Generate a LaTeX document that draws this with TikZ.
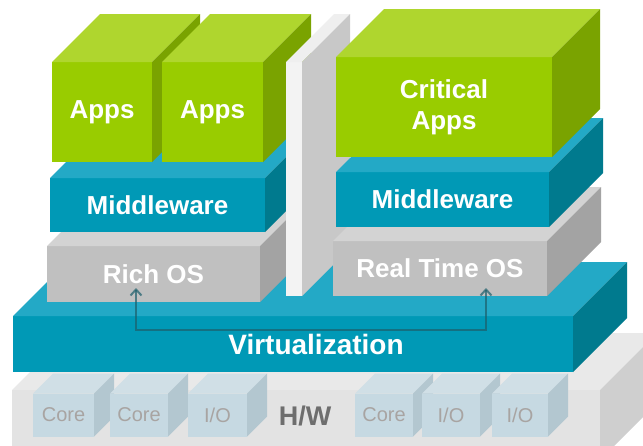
\documentclass[tikz,border=0pt]{standalone}
\usepackage{fontspec}
\setmainfont{Liberation Sans}
\usetikzlibrary{calc,arrows.meta}
\definecolor{gfront}{HTML}{99CC00}
\definecolor{gtop}{HTML}{AFD62E}
\definecolor{gside}{HTML}{7AA300}
\definecolor{cfront}{HTML}{0099B6}
\definecolor{ctop}{HTML}{23A9C6}
\definecolor{cside}{HTML}{007A8E}
\definecolor{ofront}{HTML}{C0C0C0}
\definecolor{otop}{HTML}{D3D3D3}
\definecolor{oside}{HTML}{A3A3A3}
\definecolor{dfront}{HTML}{F3F3F3}
\definecolor{dtop}{HTML}{EFEFEF}
\definecolor{dside}{HTML}{C8C8C8}
\definecolor{hfront}{HTML}{E3E3E3}
\definecolor{htop}{HTML}{E9E9E9}
\definecolor{hside}{HTML}{CFCFCF}
\definecolor{kfront}{HTML}{C6D9E2}
\definecolor{ktop}{HTML}{D0DFE6}
\definecolor{kside}{HTML}{B3C7D0}
\definecolor{ktext}{HTML}{A8A4A2}
\definecolor{htext}{HTML}{6E6E6E}
\definecolor{arrowc}{HTML}{1D5F6B}
\newcommand\cubefaces[4]{%
  \fill[#3] (#1.north west) -- ++(#2,-#2) -- ($(#1.north east)+(#2,-#2)$) -- (#1.north east) -- cycle;
  \fill[#4] (#1.north east) -- ++(#2,-#2) -- ($(#1.south east)+(#2,-#2)$) -- (#1.south east) -- cycle;}
\tikzset{
  face/.style={rectangle, inner sep=0pt, outer sep=0pt, draw=none, text=white,
    font=\fontsize{26}{30}\selectfont\bfseries, align=center},
  corebox/.style={face, fill=kfront, text=ktext, font=\fontsize{20}{24}\selectfont,
    minimum height=43pt},
  linkarrow/.style={draw=arrowc, line width=2pt, draw opacity=0.7,
    {Straight Barb[length=6pt,width=11pt]}-{Straight Barb[length=6pt,width=11pt]}}
}
\begin{document}
\begin{tikzpicture}[x=1pt,y=-1pt]
\useasboundingbox (0,0) rectangle (643,445);
\clip (0,0) rectangle (643,445);
\fill[white] (0,0) rectangle (643,445);
% H/W layer
\node[face, fill=hfront, minimum width=588pt, minimum height=70pt] (hw) at (306,425) {};
\cubefaces{hw}{57}{htop}{hside}
\node[font=\fontsize{27}{30}\selectfont\bfseries, text=htext] (hwlabel) at (305,416) {H/W};
% cores
\node[corebox, minimum width=61pt] (c1) at (63.5,415) {Core};
\cubefaces{c1}{20}{ktop}{kside}
\node[corebox, minimum width=58pt] (c2) at (139,415) {Core};
\cubefaces{c2}{20}{ktop}{kside}
\node[corebox, minimum width=59pt] (io1) at (217.5,415) {I/O};
\cubefaces{io1}{20}{ktop}{kside}
\node[corebox, minimum width=58pt] (c3) at (384,415) {Core};
\cubefaces{c3}{20}{ktop}{kside}
\node[corebox, minimum width=58pt] (io2) at (451,415) {I/O};
\cubefaces{io2}{20}{ktop}{kside}
\node[corebox, minimum width=56pt] (io3) at (520,415) {I/O};
\cubefaces{io3}{20}{ktop}{kside}
% Virtualization
\node[face, fill=cfront, minimum width=560pt, minimum height=56pt,
  label={[xshift=23pt, text=white, font=\fontsize{28}{30}\selectfont\bfseries]center:Virtualization}] (virt) at (293,344) {};
\cubefaces{virt}{54}{ctop}{cside}
% left stack
\node[face, fill=ofront, minimum width=213pt, minimum height=56pt] (richos) at (153.5,274) {Rich OS};
\cubefaces{richos}{54}{otop}{oside}
\node[face, fill=cfront, minimum width=215pt, minimum height=54pt] (mwl) at (157.5,205) {Middleware};
\cubefaces{mwl}{54}{ctop}{cside}
\node[face, fill=gfront, minimum width=100pt, minimum height=100pt] (apps1) at (102,112) {Apps};
\cubefaces{apps1}{48}{gtop}{gside}
\node[face, fill=gfront, minimum width=101pt, minimum height=100pt] (apps2) at (212.5,112) {Apps};
\cubefaces{apps2}{48}{gtop}{gside}
% divider
\node[face, fill=dfront, minimum width=16pt, minimum height=234pt] (divider) at (294,179) {};
\cubefaces{divider}{48}{dtop}{dside}
% right stack
\node[face, fill=ofront, minimum width=214pt, minimum height=55pt] (rtos) at (440,268.5) {Real Time OS};
\cubefaces{rtos}{54}{otop}{oside}
\node[face, fill=cfront, minimum width=213pt, minimum height=55pt] (mwr) at (442.5,199.5) {Middleware};
\cubefaces{mwr}{54}{ctop}{cside}
\node[face, fill=gfront, minimum width=216pt, minimum height=100pt] (crit) at (444,107) {Critical\\[1pt]Apps};
\cubefaces{crit}{48}{gtop}{gside}
% link arrow
\coordinate (tipl) at (136,288);
\coordinate (tipr) at (486,288);
\draw[linkarrow] (tipl) -- ++(0,42) -| (tipr);
\end{tikzpicture}
\end{document}
